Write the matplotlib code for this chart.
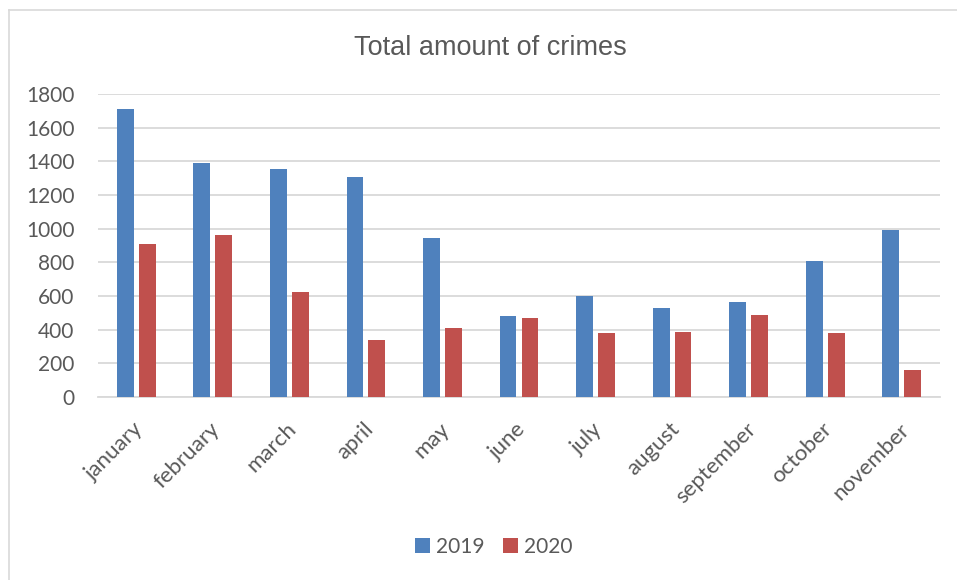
import matplotlib
matplotlib.use("Agg")
import matplotlib.pyplot as plt
import matplotlib.transforms as mtransforms
from matplotlib.lines import Line2D
import numpy as np

months = ['january', 'february', 'march', 'april', 'may', 'june',
          'july', 'august', 'september', 'october', 'november']
crimes_2019 = [1710, 1388, 1355, 1308, 944, 479, 598, 529, 565, 805, 994]
crimes_2020 = [910, 964, 624, 336, 411, 467, 380, 388, 487, 378, 163]
y_ticks = [0, 200, 400, 600, 800, 1000, 1200, 1400, 1600, 1800]

text_color = '#595959'
grid_color = '#D9D9D9'
blue = '#4F81BD'
red = '#C0504D'

fig = plt.figure(figsize=(9.57, 5.80), dpi=100)
ax = fig.add_axes([98 / 957, 1 - 397 / 580, (940 - 98) / 957, (397 - 94) / 580])

x = np.arange(len(months))
w = 0.22
off = 0.143
ax.bar(x - off, crimes_2019, width=w, color=blue, label='2019', zorder=3)
ax.bar(x + off, crimes_2020, width=w, color=red, label='2020', zorder=3)

ax.set_xlim(-0.5, len(months) - 0.5)
ax.set_ylim(0, 1800)
ax.set_yticks(y_ticks)
ax.yaxis.grid(True, color=grid_color, linewidth=1.3, zorder=0)
ax.set_axisbelow(True)

for s in ['top', 'right', 'left']:
    ax.spines[s].set_visible(False)
ax.spines['bottom'].set_color(grid_color)
ax.spines['bottom'].set_linewidth(1.3)

ax.tick_params(axis='both', length=0, colors=text_color, labelsize=15)
ax.tick_params(axis='y', pad=17)
ax.tick_params(axis='x', pad=21, labelsize=16)
for lab in ax.get_yticklabels():
    lab.set_fontfamily('Lato')

ax.set_xticks(x)
ax.set_xticklabels(months, rotation=45, ha='right', va='center',
                   rotation_mode='anchor', fontfamily='Lato')
shift = mtransforms.ScaledTranslation(4 / 100, 0, fig.dpi_scale_trans)
for lab in ax.get_xticklabels():
    lab.set_transform(lab.get_transform() + shift)

fig.text(490 / 957, 1 - 55 / 580, 'Total amount of crimes', ha='center',
         va='baseline', fontsize=19.5, color=text_color, family='Liberation Sans')

leg = fig.legend(loc='center', bbox_to_anchor=(494 / 957, 1 - 547 / 580), ncol=2,
                 frameon=False, prop={'family': 'Lato', 'size': 15},
                 handlelength=0.7, handleheight=0.7, handletextpad=0.3,
                 columnspacing=0.9)
for t in leg.get_texts():
    t.set_color(text_color)

# chart border (left and top edges visible)
fig.add_artist(Line2D([9 / 957, 9 / 957], [0, 1 - 10 / 580], color=grid_color,
                      linewidth=1.2, transform=fig.transFigure))
fig.add_artist(Line2D([9 / 957, 1], [1 - 10 / 580, 1 - 10 / 580], color=grid_color,
                      linewidth=1.2, transform=fig.transFigure))

fig.savefig('out.png', dpi=100)
